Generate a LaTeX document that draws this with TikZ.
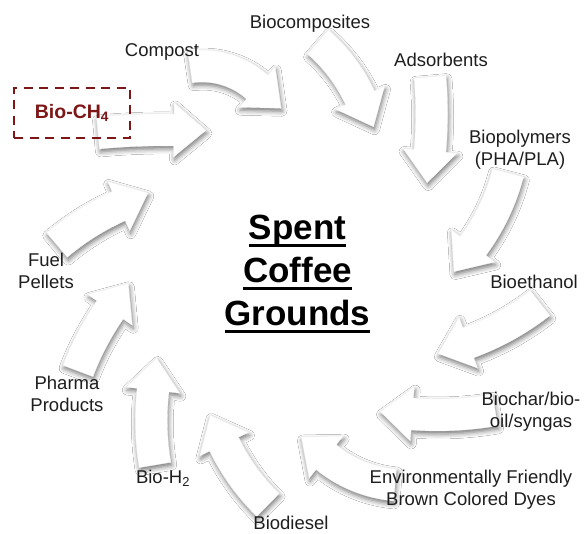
\documentclass[tikz,border=0pt]{standalone}
\usepackage{fontspec}
\setmainfont{Liberation Sans}
\usetikzlibrary{shadows.blur}

\definecolor{ch4red}{RGB}{125,22,22}
\definecolor{labelgray}{RGB}{30,30,30}

% nyil meretei
\newcommand\arw{32}
\newcommand\arhw{54}
\newcommand\arhl{32}
% #1,#2 farok, #3 kezdo irany, #4 sugar, #5 ivszog
\newcommand\bendarrow[5]{%
	\pgfmathsetmacro\arE{90-#5}%
	\pgfmathsetmacro\arTr{100*veclen(#4/100,\arhl/100)}%
	\pgfmathsetmacro\arTa{\arE-atan(\arhl/#4)}%
	\begin{scope}[shift={(#1,#2)},rotate=#3,shift={(0,-#4)}]
		\draw[flowarrow] (90:#4+\arw/2) arc[start angle=90,end angle=\arE,radius=#4+\arw/2]
			-- (\arE:#4+\arhw/2) -- (\arTa:\arTr) -- (\arE:#4-\arhw/2)
			-- (\arE:#4-\arw/2) arc[start angle=\arE,end angle=90,radius=#4-\arw/2] -- cycle;
	\end{scope}}
% alahuzott szo
\newcommand\ulword[1]{\setbox0=\hbox{#1}\rlap{\rule[-7pt]{\wd0}{2.5pt}}\box0}

\tikzset{
	flowarrow/.style={fill=white,draw=black!4,line width=0.3pt,
		blur shadow={shadow xshift=1pt,shadow yshift=-3pt,shadow blur radius=5pt,shadow opacity=55}},
	lbl/.style={font=\fontsize{18.5}{22}\selectfont,text=labelgray,align=center,inner sep=0pt},
	title/.style={font=\fontsize{35}{43}\selectfont\bfseries,align=center,inner sep=0pt},
	ch4box/.style={draw=ch4red,text=ch4red,line width=2.8pt,dash pattern=on 9pt off 6.5pt,
		minimum width=116pt,minimum height=50pt,font=\fontsize{19.5}{22}\selectfont\bfseries}
}

\begin{document}
\begin{tikzpicture}[x=1pt,y=1pt]
	\fill[white] (0,0) rectangle (584,534);
	\useasboundingbox (0,0) rectangle (584,534);
	
	% nyilak
	\bendarrow{98}{401}{5.3}{726}{6}
	\bendarrow{190}{467}{8.4}{83}{50}
	\bendarrow{318}{492}{-41}{168}{24}
	\bendarrow{430}{457}{-85}{424}{10}
	\bendarrow{508}{361}{-104.6}{212}{22}
	\bendarrow{540}{231}{-142}{262}{18}
	\bendarrow{495}{124}{189.8}{340}{14}
	\bendarrow{395}{49}{175}{127}{34}
	\bendarrow{268}{29}{135.8}{216}{20}
	\bendarrow{155}{69}{99.5}{269}{16}
	\bendarrow{78}{163}{69.3}{283}{14}
	\bendarrow{57}{289}{40.2}{262}{16}
	
	% kozepso szoveg
	\node[title] (sgc) at (297.5,260) {\ulword{Spent}\\\ulword{Coffee}\\\ulword{Grounds}};
	
	% feliratok
	\node[ch4box] (ch4) at (72,421) {Bio-CH\textsubscript{4}};
	\node[lbl] (compost) at (162,482) {Compost};
	\node[lbl] (biocomp) at (310,510) {Biocomposites};
	\node[lbl] (adsorb) at (441,474) {Adsorbents};
	\node[lbl] (biopoly) at (520,384) {Biopolymers\\(PHA/PLA)};
	\node[lbl] (bioeth) at (534,252) {Bioethanol};
	\node[lbl] (biochar) at (531,122) {Biochar/bio-\\oil/syngas};
	\node[lbl] (dyes) at (471,44) {Environmentally Friendly\\Brown Colored Dyes};
	\node[lbl] (biodiesel) at (291,11) {Biodiesel};
	\node[lbl] (bioh) at (163,56) {Bio-H\textsubscript{2}};
	\node[lbl] (pharma) at (67,140) {Pharma\\Products};
	\node[lbl] (fuel) at (46,263) {Fuel\\Pellets};
	
\end{tikzpicture}
\end{document}
